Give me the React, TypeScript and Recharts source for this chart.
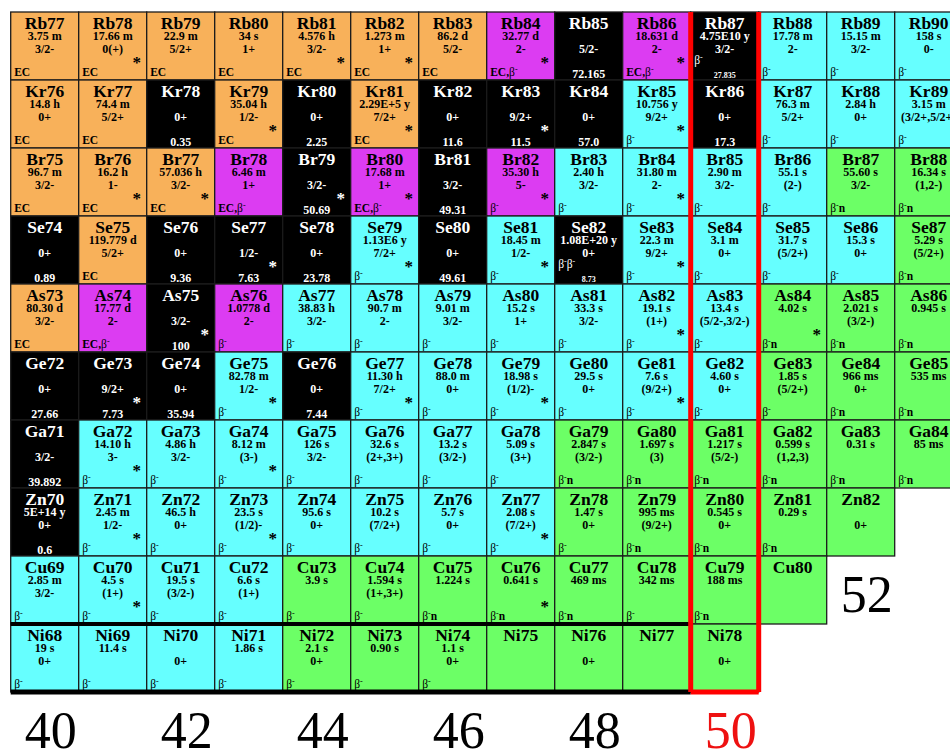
import React from 'react';
import { ScatterChart, Scatter, XAxis, YAxis } from 'recharts';

// [A, half-life, spin, decay, kind, isomer, abundance]
type Row = [number, string, string, string, string, number, string];

const rb: Row[] = [
  [77, '3.75 m', '3/2-', 'EC', 'ec', 0, ''],
  [78, '17.66 m', '0(+)', 'EC', 'ec', 1, ''],
  [79, '22.9 m', '5/2+', 'EC', 'ec', 0, ''],
  [80, '34 s', '1+', 'EC', 'ec', 0, ''],
  [81, '4.576 h', '3/2-', 'EC', 'ec', 1, ''],
  [82, '1.273 m', '1+', 'EC', 'ec', 1, ''],
  [83, '86.2 d', '5/2-', 'EC', 'ec', 0, ''],
  [84, '32.77 d', '2-', 'EC,b-', 'mx', 1, ''],
  [85, '', '5/2-', '', 'st', 0, '72.165'],
  [86, '18.631 d', '2-', 'EC,b-', 'mx', 1, ''],
  [87, '4.75E10 y', '3/2-', 'b-', 'st', 0, '27.835'],
  [88, '17.78 m', '2-', 'b-', 'bm', 0, ''],
  [89, '15.15 m', '3/2-', 'b-', 'bm', 0, ''],
  [90, '158 s', '0-', 'b-', 'bm', 0, ''],
];

const kr: Row[] = [
  [76, '14.8 h', '0+', 'EC', 'ec', 0, ''],
  [77, '74.4 m', '5/2+', 'EC', 'ec', 0, ''],
  [78, '', '0+', '', 'st', 0, '0.35'],
  [79, '35.04 h', '1/2-', 'EC', 'ec', 1, ''],
  [80, '', '0+', '', 'st', 0, '2.25'],
  [81, '2.29E+5 y', '7/2+', 'EC', 'ec', 1, ''],
  [82, '', '0+', '', 'st', 0, '11.6'],
  [83, '', '9/2+', '', 'st', 1, '11.5'],
  [84, '', '0+', '', 'st', 0, '57.0'],
  [85, '10.756 y', '9/2+', 'b-', 'bm', 1, ''],
  [86, '', '0+', '', 'st', 0, '17.3'],
  [87, '76.3 m', '5/2+', 'b-', 'bm', 0, ''],
  [88, '2.84 h', '0+', 'b-', 'bm', 0, ''],
  [89, '3.15 m', '(3/2+,5/2+)', 'b-', 'bm', 0, ''],
];

const br: Row[] = [
  [75, '96.7 m', '3/2-', 'EC', 'ec', 0, ''],
  [76, '16.2 h', '1-', 'EC', 'ec', 1, ''],
  [77, '57.036 h', '3/2-', 'EC', 'ec', 1, ''],
  [78, '6.46 m', '1+', 'EC,b-', 'mx', 0, ''],
  [79, '', '3/2-', '', 'st', 1, '50.69'],
  [80, '17.68 m', '1+', 'EC,b-', 'mx', 1, ''],
  [81, '', '3/2-', '', 'st', 0, '49.31'],
  [82, '35.30 h', '5-', 'b-', 'mx', 1, ''],
  [83, '2.40 h', '3/2-', 'b-', 'bm', 0, ''],
  [84, '31.80 m', '2-', 'b-', 'bm', 1, ''],
  [85, '2.90 m', '3/2-', 'b-', 'bm', 0, ''],
  [86, '55.1 s', '(2-)', 'b-', 'bm', 0, ''],
  [87, '55.60 s', '3/2-', 'b-n', 'bn', 0, ''],
  [88, '16.34 s', '(1,2-)', 'b-n', 'bn', 0, ''],
];

const se: Row[] = [
  [74, '', '0+', '', 'st', 0, '0.89'],
  [75, '119.779 d', '5/2+', 'EC', 'ec', 0, ''],
  [76, '', '0+', '', 'st', 0, '9.36'],
  [77, '', '1/2-', '', 'st', 1, '7.63'],
  [78, '', '0+', '', 'st', 0, '23.78'],
  [79, '1.13E6 y', '7/2+', 'b-', 'bm', 1, ''],
  [80, '', '0+', '', 'st', 0, '49.61'],
  [81, '18.45 m', '1/2-', 'b-', 'bm', 1, ''],
  [82, '1.08E+20 y', '0+', 'b-b-', 'st', 0, '8.73'],
  [83, '22.3 m', '9/2+', 'b-', 'bm', 1, ''],
  [84, '3.1 m', '0+', 'b-', 'bm', 0, ''],
  [85, '31.7 s', '(5/2+)', 'b-', 'bm', 0, ''],
  [86, '15.3 s', '0+', 'b-', 'bm', 0, ''],
  [87, '5.29 s', '(5/2+)', 'b-n', 'bn', 0, ''],
];

const as: Row[] = [
  [73, '80.30 d', '3/2-', 'EC', 'ec', 0, ''],
  [74, '17.77 d', '2-', 'EC,b-', 'mx', 0, ''],
  [75, '', '3/2-', '', 'st', 1, '100'],
  [76, '1.0778 d', '2-', 'b-', 'mx', 0, ''],
  [77, '38.83 h', '3/2-', 'b-', 'bm', 0, ''],
  [78, '90.7 m', '2-', 'b-', 'bm', 0, ''],
  [79, '9.01 m', '3/2-', 'b-', 'bm', 0, ''],
  [80, '15.2 s', '1+', 'b-', 'bm', 0, ''],
  [81, '33.3 s', '3/2-', 'b-', 'bm', 0, ''],
  [82, '19.1 s', '(1+)', 'b-', 'bm', 1, ''],
  [83, '13.4 s', '(5/2-,3/2-)', 'b-', 'bm', 0, ''],
  [84, '4.02 s', '', 'b-n', 'bn', 1, ''],
  [85, '2.021 s', '(3/2-)', 'b-n', 'bn', 0, ''],
  [86, '0.945 s', '', 'b-n', 'bn', 0, ''],
];

const ge: Row[] = [
  [72, '', '0+', '', 'st', 0, '27.66'],
  [73, '', '9/2+', '', 'st', 1, '7.73'],
  [74, '', '0+', '', 'st', 0, '35.94'],
  [75, '82.78 m', '1/2-', 'b-', 'bm', 1, ''],
  [76, '', '0+', '', 'st', 0, '7.44'],
  [77, '11.30 h', '7/2+', 'b-', 'bm', 1, ''],
  [78, '88.0 m', '0+', 'b-', 'bm', 0, ''],
  [79, '18.98 s', '(1/2)-', 'b-', 'bm', 1, ''],
  [80, '29.5 s', '0+', 'b-', 'bm', 0, ''],
  [81, '7.6 s', '(9/2+)', 'b-', 'bm', 1, ''],
  [82, '4.60 s', '0+', 'b-', 'bm', 0, ''],
  [83, '1.85 s', '(5/2+)', 'b-', 'bn', 0, ''],
  [84, '966 ms', '0+', 'b-n', 'bn', 0, ''],
  [85, '535 ms', '', 'b-n', 'bn', 0, ''],
];

const ga: Row[] = [
  [71, '', '3/2-', '', 'st', 0, '39.892'],
  [72, '14.10 h', '3-', 'b-', 'bm', 1, ''],
  [73, '4.86 h', '3/2-', 'b-', 'bm', 0, ''],
  [74, '8.12 m', '(3-)', 'b-', 'bm', 1, ''],
  [75, '126 s', '3/2-', 'b-', 'bm', 0, ''],
  [76, '32.6 s', '(2+,3+)', 'b-', 'bm', 0, ''],
  [77, '13.2 s', '(3/2-)', 'b-', 'bm', 0, ''],
  [78, '5.09 s', '(3+)', 'b-', 'bm', 0, ''],
  [79, '2.847 s', '(3/2-)', 'b-n', 'bn', 0, ''],
  [80, '1.697 s', '(3)', 'b-n', 'bn', 0, ''],
  [81, '1.217 s', '(5/2-)', 'b-n', 'bn', 0, ''],
  [82, '0.599 s', '(1,2,3)', 'b-n', 'bn', 0, ''],
  [83, '0.31 s', '', 'b-n', 'bn', 0, ''],
  [84, '85 ms', '', 'b-n', 'bn', 0, ''],
];

const zn: Row[] = [
  [70, '5E+14 y', '0+', '', 'st', 0, '0.6'],
  [71, '2.45 m', '1/2-', 'b-', 'bm', 1, ''],
  [72, '46.5 h', '0+', 'b-', 'bm', 0, ''],
  [73, '23.5 s', '(1/2)-', 'b-', 'bm', 1, ''],
  [74, '95.6 s', '0+', 'b-', 'bm', 0, ''],
  [75, '10.2 s', '(7/2+)', 'b-', 'bm', 0, ''],
  [76, '5.7 s', '0+', 'b-', 'bm', 0, ''],
  [77, '2.08 s', '(7/2+)', 'b-', 'bm', 1, ''],
  [78, '1.47 s', '0+', 'b-', 'bn', 0, ''],
  [79, '995 ms', '(9/2+)', 'b-n', 'bn', 0, ''],
  [80, '0.545 s', '0+', 'b-n', 'bn', 0, ''],
  [81, '0.29 s', '', 'b-n', 'bn', 0, ''],
  [82, '', '0+', '', 'bn', 0, ''],
];

const cu: Row[] = [
  [69, '2.85 m', '3/2-', 'b-', 'bm', 0, ''],
  [70, '4.5 s', '(1+)', 'b-', 'bm', 1, ''],
  [71, '19.5 s', '(3/2-)', 'b-', 'bm', 0, ''],
  [72, '6.6 s', '(1+)', 'b-', 'bm', 0, ''],
  [73, '3.9 s', '', 'b-', 'bn', 0, ''],
  [74, '1.594 s', '(1+,3+)', 'b-', 'bn', 0, ''],
  [75, '1.224 s', '', 'b-n', 'bn', 0, ''],
  [76, '0.641 s', '', 'b-n', 'bn', 1, ''],
  [77, '469 ms', '', 'b-n', 'bn', 0, ''],
  [78, '342 ms', '', 'b-', 'bn', 0, ''],
  [79, '188 ms', '', 'b-n', 'bn', 0, ''],
  [80, '', '', '', 'bn', 0, ''],
];

const ni: Row[] = [
  [68, '19 s', '0+', 'b-', 'bm', 0, ''],
  [69, '11.4 s', '', 'b-', 'bm', 0, ''],
  [70, '', '0+', 'b-', 'bm', 0, ''],
  [71, '1.86 s', '', 'b-', 'bm', 0, ''],
  [72, '2.1 s', '0+', 'b-', 'bn', 0, ''],
  [73, '0.90 s', '', 'b-', 'bn', 0, ''],
  [74, '1.1 s', '0+', 'b-', 'bn', 0, ''],
  [75, '', '', '', 'bn', 0, ''],
  [76, '', '0+', '', 'bn', 0, ''],
  [77, '', '', '', 'bn', 0, ''],
  [78, '', '0+', '', 'bn', 0, ''],
];

const elements: [string, number, Row[]][] = [
  ['Rb', 37, rb], ['Kr', 36, kr], ['Br', 35, br], ['Se', 34, se], ['As', 33, as],
  ['Ge', 32, ge], ['Ga', 31, ga], ['Zn', 30, zn], ['Cu', 29, cu], ['Ni', 28, ni],
];

const magicTicks = [40, 42, 44, 46, 48, 50];
const magicRed = 50;
const sideLabel = { n: 52, z: 28.94, text: '52' };
const tickZ = 26.94;

// overlay lines: centre (n, z), span in cells (dn, dz)
const overlayLines = [
  { n: 44.5, z: 28.5, dn: 10, dz: 0, color: '#000000', w: 4 },
  { n: 44.5, z: 27.5, dn: 10, dz: 0, color: '#000000', w: 5 },
  { n: 49.5, z: 32.5, dn: 0, dz: 10, color: '#ff0000', w: 5 },
  { n: 50.5, z: 32.5, dn: 0, dz: 10, color: '#ff0000', w: 5 },
  { n: 50, z: 27.5, dn: 1, dz: 0, color: '#ff0000', w: 5 },
];

const kindFill: Record<string, string> = {
  ec: '#f8b15a',
  mx: '#dc3cf2',
  bm: '#66ffff',
  bn: '#6cff66',
  st: '#000000',
};

const W = 950;
const H = 749;
const CELL = 68;
const X_MIN = 40 - 44.7 / CELL;
const X_MAX = X_MIN + W / CELL;
const Y_MAX = 37 + 46 / CELL;
const Y_MIN = Y_MAX - H / CELL;
const FONT = "Liberation Serif, Times New Roman, serif";

const cells = elements.flatMap(([sym, z, rows]) =>
  rows.map(([a, half, spin, decay, kind, iso, abund]) => ({
    n: a - z, z, name: `${sym}${a}`, half, spin, decay, kind, iso, abund,
  }))
);

const tickData = magicTicks.map((n) => ({ n, z: tickZ, text: String(n) }));

function DecayText({ x, y, mode, fill }: { x: number; y: number; mode: string; fill: string }) {
  const parts = mode.split(/(b-)/).filter(Boolean);
  const out: React.ReactNode[] = [];
  let raised = false;
  parts.forEach((p, i) => {
    if (p === 'b-') {
      out.push(<tspan key={i + 'b'} fontWeight="normal" dy={raised ? 4 : 0}>β</tspan>);
      out.push(<tspan key={i + 'm'} fontWeight="normal" fontSize={8} dy={-4}>-</tspan>);
      raised = true;
    } else {
      out.push(<tspan key={i} dy={raised ? 4 : 0}>{p}</tspan>);
      raised = false;
    }
  });
  return (
    <text x={x} y={y} fontSize={11.5} fontWeight="bold" fill={fill} style={{ fontFamily: FONT }}>
      {out}
    </text>
  );
}

function T(props: any) {
  const { children, ...rest } = props;
  return (
    <text textAnchor="middle" fontWeight="bold" {...rest} style={{ fontFamily: FONT }}>
      {children}
    </text>
  );
}

function NuclideCell(props: any) {
  const { cx, cy, payload: d } = props;
  const x0 = cx - CELL / 2;
  const y0 = cy - CELL / 2;
  const dark = d.kind === 'st';
  const fg = dark ? '#ffffff' : '#000000';
  const both = d.decay && d.abund;
  return (
    <g>
      <rect x={x0} y={y0} width={CELL} height={CELL} fill={kindFill[d.kind]} stroke="#1c1c1c" strokeWidth={1.3} />
      <T x={cx} y={y0 + 16.5} fontSize={17.5} fill={fg}>{d.name}</T>
      {d.half && <T x={cx} y={y0 + 27.5} fontSize={12} fill={fg}>{d.half}</T>}
      {d.spin && <T x={cx} y={y0 + 41} fontSize={12} fill={fg}>{d.spin}</T>}
      {d.iso ? <T x={x0 + 58} y={y0 + 56} fontSize={17} fill={fg}>*</T> : null}
      {d.decay && <DecayText x={x0 + 3.5} y={y0 + (both ? 51.5 : 63.5)} mode={d.decay} fill={fg} />}
      {d.abund && <T x={cx} y={y0 + 65.5} fontSize={both ? 8 : 12} fill={fg}>{d.abund}</T>}
    </g>
  );
}

function OverlayLine(props: any) {
  const { cx, cy, payload: l } = props;
  const hx = (l.dn * CELL) / 2;
  const hy = (l.dz * CELL) / 2;
  return <line x1={cx - hx} x2={cx + hx} y1={cy - hy} y2={cy + hy} stroke={l.color} strokeWidth={l.w} />;
}

function MagicLabel(props: any) {
  const { cx, cy, payload } = props;
  const n = Number(payload.text);
  return (
    <text x={cx + 6} y={cy + 18} textAnchor="middle" fontSize={52} style={{ fontFamily: FONT }}
      fill={n === magicRed ? '#ee1111' : '#000000'}>
      {payload.text}
    </text>
  );
}

export default function App() {
  return (
    <div style={{ position: 'absolute', left: 0, top: 0, width: W, height: H, background: '#fff' }}>
      <ScatterChart width={W} height={H} margin={{ top: 0, right: 0, bottom: 0, left: 0 }}>
        <XAxis type="number" dataKey="n" hide domain={[X_MIN, X_MAX]} allowDataOverflow />
        <YAxis type="number" dataKey="z" hide domain={[Y_MIN, Y_MAX]} allowDataOverflow />
        <Scatter data={cells} shape={NuclideCell} isAnimationActive={false} />
        <Scatter data={overlayLines} shape={OverlayLine} isAnimationActive={false} />
        <Scatter data={[...tickData, sideLabel]} shape={MagicLabel} isAnimationActive={false} />
      </ScatterChart>
    </div>
  );
}
